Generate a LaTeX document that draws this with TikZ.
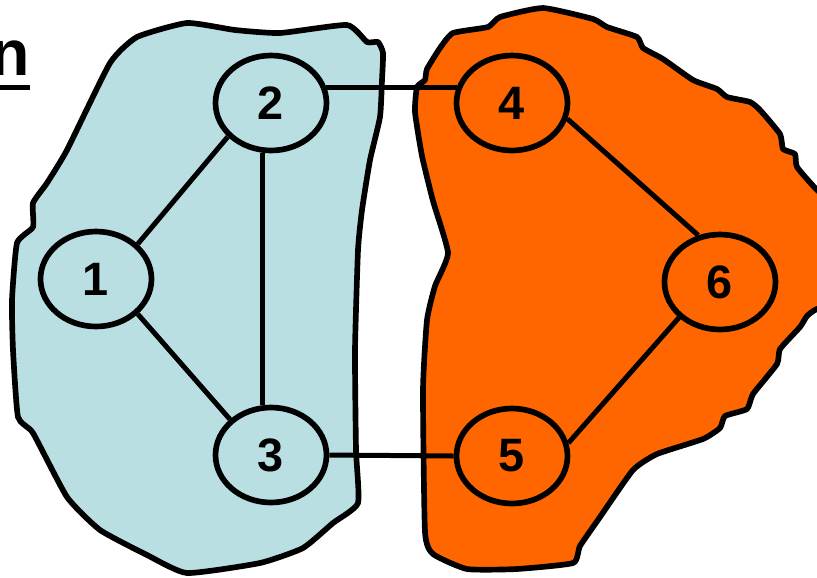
\documentclass[tikz,border=0pt]{standalone}
\usepackage{fontspec}
\setmainfont{Liberation Sans}
\usepackage{xcolor}
\usetikzlibrary{arrows,shapes,positioning,calc}

\definecolor{regionblue}{RGB}{186,223,227}
\definecolor{regionorange}{RGB}{255,102,0}

\begin{document}
\begin{tikzpicture}[
    x=0.03cm, y=-0.03cm,
    region/.style={draw=black, line width=0.17cm, line join=round},
    vertex/.style={ellipse, draw, line width=0.17cm, minimum width=3.33cm, minimum height=2.85cm, inner sep=0pt, font=\fontsize{40}{41}\selectfont\bfseries},
    link/.style={line width=0.15cm}
]
\useasboundingbox (0,0) rectangle (817,577);
\clip (0,0) rectangle (817,577);

% Draw regions
\draw[region, fill=regionblue] plot[smooth cycle, tension=0.3] coordinates {
    (67,150) (110,63) (137,37) (187,23) (235,30) (280,33) (347,25) (367,42) (378,42) (383,53)
    (382,80) (380,117) (370,160) (362,210) (358,250) (355,350) (356,450) (358,503) (333,523)
    (303,548) (260,563) (187,573) (147,555) (100,530) (67,497) (33,433) (18,417) (13,350)
    (12,300) (17,243) (33,227) (33,203) (47,183)};

\draw[region, fill=regionorange] plot[smooth cycle, tension=0.3] coordinates {
    (543,8) (593,19) (607,27) (637,37) (643,48) (663,59) (693,80) (717,89) (727,97) (750,102)
    (760,110) (780,134) (783,149) (795,154) (797,167) (817,190) (850,220) (850,300) (817,309)
    (807,316) (800,327) (780,349) (777,364) (753,394) (747,409) (725,416) (720,428) (703,439)
    (657,454) (633,470) (600,517) (580,546) (573,563) (517,569) (467,569) (433,554) (425,532)
    (423,390) (427,320) (435,286) (448,253) (433,201) (422,156) (415,112) (417,87) (425,80)
    (427,69) (440,48) (453,33) (488,27) (500,17)};

% Draw title
\node[anchor=base east, inner sep=0pt, font=\fontsize{55}{56}\selectfont\bfseries] (title) at (30,75) {n};
\draw[line width=0.15cm] ([yshift=-0.37cm]title.base west) -- ([yshift=-0.37cm]title.base east);

% Draw vertices
\node[vertex] (n1) at (96,279) {1};
\node[vertex] (n2) at (271,103) {2};
\node[vertex] (n3) at (271,455) {3};
\node[vertex] (n4) at (512,103) {4};
\node[vertex] (n5) at (512,456) {5};
\node[vertex] (n6) at (720,282) {6};

% Draw links
\draw[link] (n1.40) -- (n2.218);
\draw[link] (n1.-40) -- (n3.139);
\draw[link] ([xshift=-0.25cm]n2.south) -- ([xshift=-0.25cm]n3.north);
\draw[link] (n2.16) -- (n4.164);
\draw[link] (n3.east) -- (n5.west);
\draw[link] (n4.-16) -- (n6.115);
\draw[link] (n5.13) -- (n6.221);

\end{tikzpicture}
\end{document}
